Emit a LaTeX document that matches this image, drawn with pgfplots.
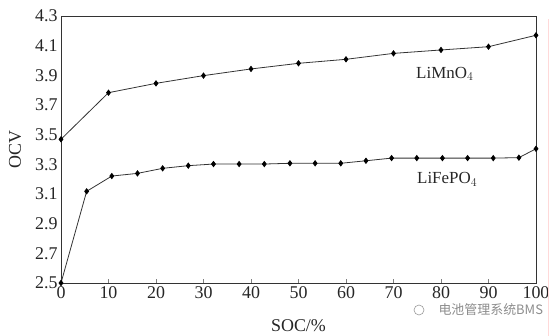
\documentclass[border=0pt]{standalone}
\usepackage{pgfplots}
\pgfplotsset{compat=1.18}
\usepackage{fontspec}
\setmainfont{Liberation Serif}
\newfontfamily\cjk{Noto Sans CJK SC}
\begin{document}
\begin{tikzpicture}
\path[use as bounding box] (-61bp,-53bp) rectangle (498bp,283bp);
\begin{axis}[
  at={(0,0)}, anchor=south west,
  scale only axis, width=475bp, height=267bp,
  xmin=0, xmax=100, ymin=2.5, ymax=4.3,
  xtick={0,10,...,100}, ytick={2.5,2.7,...,4.3},
  yticklabel style={/pgf/number format/.cd,fixed,fixed zerofill,precision=1},
  /pgf/number format/assume math mode=true,
  tick label style={font=\fontsize{18}{20}\selectfont, text=black!85},
  xtick pos=bottom, ytick pos=left,
  tick align=inside,
  ytick style={draw=none},
  major tick length=4bp,
  axis line style={black!80, line width=0.9pt},
  xlabel={SOC/\%}, ylabel={OCV},
  label style={font=\fontsize{18}{20}\selectfont, text=black!85},
  xlabel style={at={(axis description cs:0.5,0)}, anchor=north, yshift=-33bp},
  ylabel style={yshift=7bp},
  clip=false,
]
\addplot[black!80, line width=0.8pt, mark=diamond*, mark size=2.6pt, mark options={fill=black, draw=black}]
coordinates {(0,3.469)(10,3.783)(20,3.846)(30,3.898)(40,3.943)(50,3.981)(60,4.008)(70,4.048)(80,4.071)(90,4.093)(100,4.170)};
\addplot[black!80, line width=0.8pt, mark=diamond*, mark size=2.6pt, mark options={fill=black, draw=black}]
coordinates {(0,2.5)(5.4,3.118)(10.7,3.221)(16.1,3.239)(21.4,3.273)(26.8,3.291)(32.1,3.302)(37.5,3.302)(42.8,3.302)(48.2,3.307)(53.5,3.307)(58.9,3.307)(64.2,3.324)(69.6,3.342)(74.9,3.342)(80.3,3.342)(85.6,3.342)(91,3.342)(96.4,3.345)(100,3.405)};
\node[font=\fontsize{17}{19}\selectfont, text=black!85] at (axis cs:80.8,3.91) {LiMnO$_4$};
\node[font=\fontsize{17}{19}\selectfont, text=black!85] at (axis cs:81.3,3.20) {LiFePO$_4$};
\end{axis}
\node[font=\cjk\fontsize{13}{15}\selectfont, text=black!45, anchor=west] at (374bp,-27bp) {电池管理系统BMS};
\draw[black!40, line width=0.6pt] (358bp,-27bp) circle (5bp);
\draw[red!15, line width=0.8pt] (487bp,-53bp) -- (487bp,264bp);
\end{tikzpicture}
\end{document}
